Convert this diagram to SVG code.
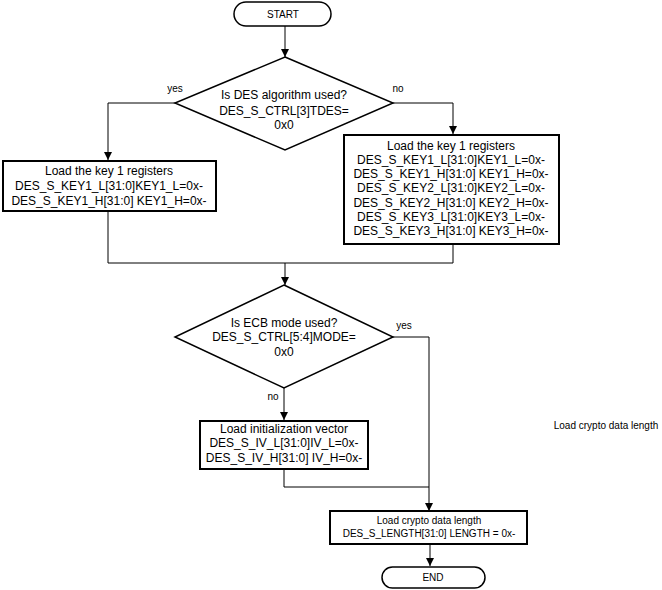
<svg xmlns="http://www.w3.org/2000/svg" width="662" height="590" viewBox="0 0 662 590">
<style>
.t{font-family:"Liberation Sans",Arial,sans-serif;font-size:12px;fill:#000;text-anchor:middle}
.s{font-family:"Liberation Sans",Arial,sans-serif;font-size:10px;fill:#000;text-anchor:middle}
.box{fill:#fff;stroke:#000;stroke-width:2}
.dia{fill:#fff;stroke:#000;stroke-width:1.5}
.term{fill:#fff;stroke:#000;stroke-width:1.5}
.c{fill:none;stroke:#000;stroke-width:1}
</style>
<defs>
<marker id="a" markerWidth="8" markerHeight="8" refX="8" refY="4" orient="auto" markerUnits="userSpaceOnUse">
<path d="M0,0 L8,4 L0,8 Z" fill="#000"/>
</marker>
</defs>
<rect width="662" height="590" fill="#fff"/>
<g id="connectors">
<path class="c" d="M285,26 V57" marker-end="url(#a)"/>
<path class="c" d="M175,103 H108 V160" marker-end="url(#a)"/>
<path class="c" d="M393,103 H453 V134" marker-end="url(#a)"/>
<path class="c" d="M108,212 V263 H453 V245"/>
<path class="c" d="M285,263 V285" marker-end="url(#a)"/>
<path class="c" d="M393,337 H429 V511" marker-end="url(#a)"/>
<path class="c" d="M284,388 V420" marker-end="url(#a)"/>
<path class="c" d="M284,470 V487 H429"/>
<path class="c" d="M430,545 V566" marker-end="url(#a)"/>
<text class="s" x="175" y="92">yes</text>
<text class="s" x="398" y="92">no</text>
<text class="s" x="404" y="329">yes</text>
<text class="s" x="273" y="400">no</text>
</g>
<g id="start">
<rect class="term" x="234" y="2" width="97" height="24" rx="12"/>
<text class="s" x="283" y="18">START</text>
</g>
<g id="des-decision">
<polygon class="dia" points="285,57 393,103 285,150 175,103"/>
<text class="t" x="284" y="99">Is DES algorithm used?</text>
<text class="t" x="284" y="115">DES_S_CTRL[3]TDES=</text>
<text class="t" x="284" y="129">0x0</text>
</g>
<g id="key1-box">
<rect class="box" x="3" y="161" width="213" height="50"/>
<text class="t" x="109" y="175">Load the key 1 registers</text>
<text class="t" x="109" y="190">DES_S_KEY1_L[31:0]KEY1_L=0x-</text>
<text class="t" x="109" y="205">DES_S_KEY1_H[31:0] KEY1_H=0x-</text>
</g>
<g id="key123-box">
<rect class="box" x="344" y="135" width="215" height="109"/>
<text class="t" x="451" y="150">Load the key 1 registers</text>
<text class="t" x="451" y="164">DES_S_KEY1_L[31:0]KEY1_L=0x-</text>
<text class="t" x="451" y="178">DES_S_KEY1_H[31:0] KEY1_H=0x-</text>
<text class="t" x="451" y="192">DES_S_KEY2_L[31:0]KEY2_L=0x-</text>
<text class="t" x="451" y="207">DES_S_KEY2_H[31:0] KEY2_H=0x-</text>
<text class="t" x="451" y="221">DES_S_KEY3_L[31:0]KEY3_L=0x-</text>
<text class="t" x="451" y="235">DES_S_KEY3_H[31:0] KEY3_H=0x-</text>
</g>
<g id="ecb-decision">
<polygon class="dia" points="284,285 393,337 284,388 175,337"/>
<text class="t" x="284" y="327">Is ECB mode used?</text>
<text class="t" x="284" y="341">DES_S_CTRL[5:4]MODE=</text>
<text class="t" x="284" y="356">0x0</text>
</g>
<g id="iv-box">
<rect class="box" x="200" y="421" width="168" height="48"/>
<text class="t" x="284" y="433">Load initialization vector</text>
<text class="t" x="284" y="447">DES_S_IV_L[31:0]IV_L=0x-</text>
<text class="t" x="284" y="462">DES_S_IV_H[31:0] IV_H=0x-</text>
</g>
<g id="length-box">
<rect class="box" x="330" y="511" width="197" height="33"/>
<text class="s" x="429" y="524">Load crypto data length</text>
<text class="s" x="429" y="537">DES_S_LENGTH[31:0] LENGTH = 0x-</text>
</g>
<g id="end">
<rect class="term" x="382" y="567" width="103" height="21" rx="10.5"/>
<text class="s" x="433" y="581">END</text>
</g>
<text class="s" x="606" y="429">Load crypto data length</text>
</svg>
